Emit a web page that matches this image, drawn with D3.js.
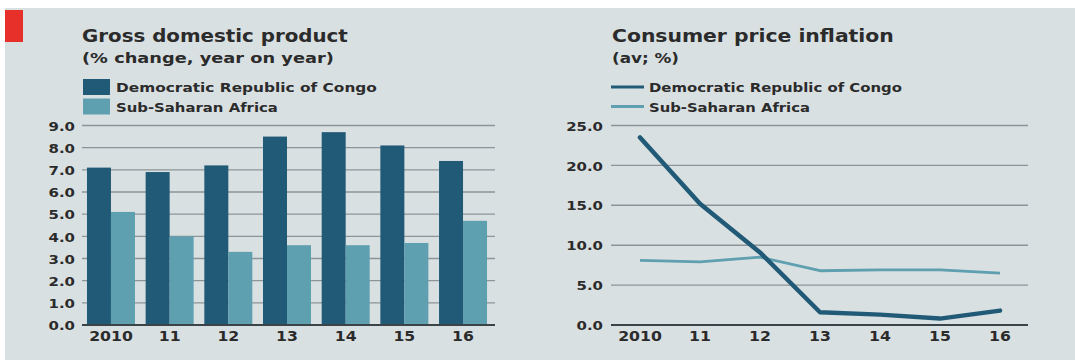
<!DOCTYPE html>
<html>
<head>
<meta charset="utf-8">
<script src="https://cdn.jsdelivr.net/npm/d3@7"></script>
<style>
  html, body { margin: 0; padding: 0; background: #ffffff; }
  svg { display: block; }
  text { font-family: "DejaVu Sans", "Open Sans", sans-serif; }
</style>
</head>
<body>
<svg id="chart" width="1075" height="360"></svg>
<script>
// Years shown on both panels
const years = ["2010", "11", "12", "13", "14", "15", "16"];

// GDP growth, % change year on year
const gdpCongo = [7.1, 6.9, 7.2, 8.5, 8.7, 8.1, 7.4];
const gdpSSA = [5.1, 4.0, 3.3, 3.6, 3.6, 3.7, 4.7];
const gdpTicks = [0, 1, 2, 3, 4, 5, 6, 7, 8, 9];

// Consumer price inflation, annual average %
const cpiCongo = [23.5, 15.2, 9.1, 1.6, 1.3, 0.8, 1.8];
const cpiSSA = [8.1, 7.9, 8.5, 6.8, 6.9, 6.9, 6.5];
const cpiTicks = [0, 5, 10, 15, 20, 25];

const seriesNames = ["Democratic Republic of Congo", "Sub-Saharan Africa"];

const darkBlue = "#215a76";
const lightBlue = "#5e9fb0";
const gridColor = "#8b9498";
const textColor = "#2b2b2b";
const font = "'DejaVu Sans', sans-serif";

const svg = d3.select("#chart");

// Panel background and red tag
svg.append("rect").attr("x", 5).attr("y", 8).attr("width", 1070).attr("height", 352).attr("fill", "#d9e0e2");
svg.append("rect").attr("x", 5).attr("y", 10).attr("width", 18).attr("height", 32).attr("fill", "#e8302a");

// Text in a widened face: glyphs are stretched horizontally to fill the set width
function wideText(parent, x, y, size, weight, str, width) {
  const t = parent.append("text").attr("x", 0).attr("y", 0)
    .attr("font-size", size).attr("font-weight", weight).attr("fill", textColor).text(str);
  const len = t.node().getComputedTextLength() || width;
  t.attr("transform", `translate(${x},${y}) scale(${width / len},1)`);
  return t;
}

function header(x, title, subtitle, titleW, subW) {
  wideText(svg, x, 42, 18, 700, title, titleW);
  wideText(svg, x, 63, 14.5, 700, subtitle, subW);
}

function yGrid(g, y, ticks, x0, x1, labelX) {
  const axis = d3.axisLeft(y).tickValues(ticks).tickFormat(d3.format(".1f")).tickSize(0).tickPadding(0);
  const ax = g.append("g").attr("transform", `translate(${labelX},0)`).call(axis);
  ax.select(".domain").remove();
  ax.selectAll("text").attr("font-size", 13).attr("font-weight", 700).attr("fill", textColor)
    .attr("font-family", font).attr("dy", "0.36em")
    .attr("transform", "scale(1.15,1)");
  g.selectAll("line.grid").data(ticks).join("line")
    .attr("class", "grid")
    .attr("x1", x0).attr("x2", x1)
    .attr("y1", d => y(d)).attr("y2", d => y(d))
    .attr("stroke", d => d === 0 ? "#3a4347" : gridColor)
    .attr("stroke-width", d => d === 0 ? 2.2 : 1.4);
}

function xLabels(g, x, offset) {
  const axis = d3.axisBottom(x).tickSize(0).tickPadding(0);
  const ax = g.append("g").attr("transform", "translate(0,341)").call(axis);
  ax.select(".domain").remove();
  ax.selectAll(".tick").attr("transform", d => `translate(${x(d) + offset},0)`);
  ax.selectAll("text").attr("dy", 0).attr("font-size", 14).attr("font-weight", 700)
    .attr("fill", textColor).attr("font-family", font)
    .attr("transform", "scale(1.12,1)");
}

// ---------- Left panel: GDP bars ----------
{
  const g = svg.append("g");
  header(82, "Gross domestic product", "(% change, year on year)", 266, 252);

  const legendW = [261, 162];
  [darkBlue, lightBlue].forEach((c, i) => {
    g.append("rect").attr("x", 83).attr("y", 79 + i * 19.5).attr("width", 27).attr("height", 16).attr("fill", c);
    wideText(g, 116, 92 + i * 19.5, 12.5, 600, seriesNames[i], legendW[i]);
  });

  const y = d3.scaleLinear().domain([0, 9]).range([325, 125.5]);
  const x = d3.scaleBand().domain(years).range([81.1, 492.9]).paddingInner(0.182).paddingOuter(0.1);
  const half = x.bandwidth() / 2;

  yGrid(g, y, gdpTicks, 82, 495, 75);

  const bars = g.append("g");
  years.forEach((yr, i) => {
    bars.append("rect").attr("x", x(yr)).attr("y", y(gdpCongo[i]))
      .attr("width", half).attr("height", y(0) - y(gdpCongo[i])).attr("fill", darkBlue);
    bars.append("rect").attr("x", x(yr) + half).attr("y", y(gdpSSA[i]))
      .attr("width", half).attr("height", y(0) - y(gdpSSA[i])).attr("fill", lightBlue);
  });
  // keep the zero line above the bars
  g.append("line").attr("x1", 82).attr("x2", 495).attr("y1", y(0)).attr("y2", y(0))
    .attr("stroke", "#3a4347").attr("stroke-width", 2.2);

  xLabels(g, x, half);
}

// ---------- Right panel: inflation lines ----------
{
  const g = svg.append("g");
  header(612, "Consumer price inflation", "(av; %)", 282, 67);

  const legendW = [253, 161];
  [darkBlue, lightBlue].forEach((c, i) => {
    g.append("line").attr("x1", 611).attr("x2", 644).attr("y1", 87 + i * 19.5).attr("y2", 87 + i * 19.5)
      .attr("stroke", c).attr("stroke-width", 3);
    wideText(g, 649, 92 + i * 19.5, 12.5, 600, seriesNames[i], legendW[i]);
  });

  const y = d3.scaleLinear().domain([0, 25]).range([325, 125.5]);
  const x = d3.scalePoint().domain(years).range([640, 1000]);

  yGrid(g, y, cpiTicks, 611, 1028, 603);

  const line = d3.line().x((d, i) => x(years[i])).y(d => y(d));
  g.append("path").datum(cpiSSA).attr("d", line).attr("fill", "none")
    .attr("stroke", lightBlue).attr("stroke-width", 2.8).attr("stroke-linejoin", "round");
  g.append("path").datum(cpiCongo).attr("d", line).attr("fill", "none")
    .attr("stroke", darkBlue).attr("stroke-width", 4.5).attr("stroke-linejoin", "round").attr("stroke-linecap", "round");

  xLabels(g, x, 0);
}
</script>
</body>
</html>
